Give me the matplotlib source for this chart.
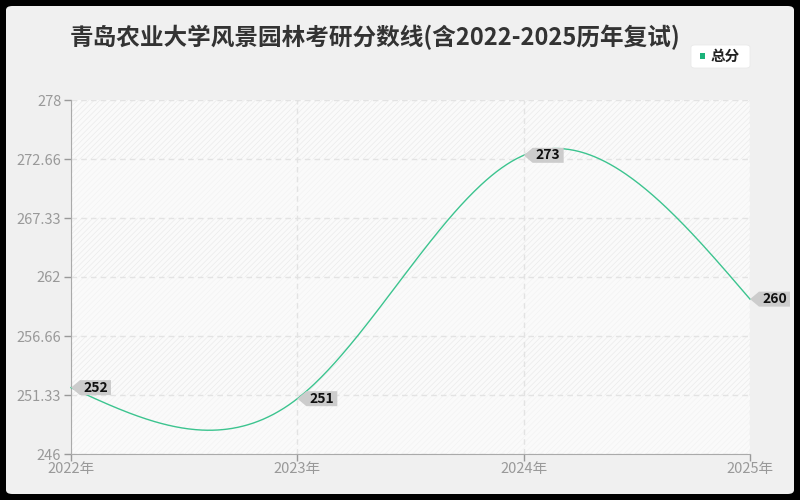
import numpy as np
import matplotlib
matplotlib.use("Agg")
import matplotlib.pyplot as plt
from matplotlib.patches import FancyBboxPatch, Polygon
import matplotlib as mpl

plt.rcParams['font.family'] = ['Noto Sans CJK SC', 'DejaVu Sans']
mpl.rcParams['hatch.linewidth'] = 0.5

title = "青岛农业大学风景园林考研分数线(含2022-2025历年复试)"
years = [2022, 2023, 2024, 2025]
xlabels = ["2022年", "2023年", "2024年", "2025年"]
scores = [252, 251, 273, 260]
series_name = "总分"
yticks = [246, 251.33, 256.66, 262, 267.33, 272.66, 278]
ytick_labels = ["246", "251.33", "256.66", "262", "267.33", "272.66", "278"]

W, H = 800, 500
fig = plt.figure(figsize=(W/100, H/100), dpi=100)
fig.patch.set_facecolor('black')
# panel
panel = FancyBboxPatch((6/W, 6/H), 788/W, 488/H, boxstyle="round,pad=0,rounding_size=0.008",
                       transform=fig.transFigure, facecolor='#f0f0f0', edgecolor='none', zorder=-10)
fig.patches.append(panel)

ax = fig.add_axes([71/W, 1-454/H, (750-71)/W, (454-100)/H])
ax.set_zorder(1)
ax.set_facecolor('#fafafa')
ax.set_xlim(2022, 2025)
ax.set_ylim(246, 278)

# alternating hatched bands
for i in range(len(yticks)-1):
    strong = (len(yticks)-2-i) % 2 == 0
    ax.axhspan(yticks[i], yticks[i+1], facecolor='#fafafa',
               edgecolor='#ebebeb' if strong else '#f3f3f3', hatch='//////', linewidth=0, zorder=0)

# natural cubic spline
x = np.array(years, dtype=float)
y = np.array(scores, dtype=float)
n = len(x)
h = np.diff(x)
A = np.zeros((n, n)); r = np.zeros(n)
A[0, 0] = 1; A[-1, -1] = 1
for i in range(1, n-1):
    A[i, i-1] = h[i-1]; A[i, i] = 2*(h[i-1]+h[i]); A[i, i+1] = h[i]
    r[i] = 6*((y[i+1]-y[i])/h[i] - (y[i]-y[i-1])/h[i-1])
M = np.linalg.solve(A, r)
xs = np.linspace(x[0], x[-1], 400)
ys = np.zeros_like(xs)
for k, xv in enumerate(xs):
    i = min(np.searchsorted(x, xv, side='right')-1, n-2)
    t1 = x[i+1]-xv; t0 = xv-x[i]
    ys[k] = (M[i]*t1**3 + M[i+1]*t0**3)/(6*h[i]) + (y[i]/h[i] - M[i]*h[i]/6)*t1 + (y[i+1]/h[i] - M[i+1]*h[i]/6)*t0
ax.plot(xs, ys, color='#3cc48f', lw=1, zorder=3, clip_on=False)

ax.set_xticks(years)
ax.set_xticklabels(xlabels)
ax.set_yticks(yticks)
ax.set_yticklabels(ytick_labels)
ax.tick_params(axis='both', colors='#999999', labelsize=10.5, length=5, width=1)
ax.tick_params(axis='x', pad=1)
ax.tick_params(axis='y', pad=2)
for lab in ax.get_xticklabels():
    lab.set_color('#999999')
for lab in ax.get_yticklabels():
    lab.set_color('#999999')
ax.grid(True, color='#e3e3e3', linestyle=(0, (4, 3)), lw=1)
for s in ['top', 'right']:
    ax.spines[s].set_visible(False)
for s in ['left', 'bottom']:
    ax.spines[s].set_color('#aaaaaa')
ax.set_axisbelow(True)

# value labels: arrow-shaped grey tags
for xv, yv in zip(years, scores):
    px, py = ax.transData.transform((xv, yv))
    tip = 9; bw = 31; bh = 15
    pts = [(px, py), (px+tip, py+bh/2), (px+tip+bw, py+bh/2), (px+tip+bw, py-bh/2), (px+tip, py-bh/2)]
    pts_fig = [(a/W, b/H) for a, b in pts]
    poly = Polygon(pts_fig, closed=True, transform=fig.transFigure, facecolor='#cccccc',
                   edgecolor='none', zorder=5)
    fig.patches.append(poly)
    fig.text((px+tip+bw/2)/W, py/H, str(yv), ha='center', va='center', fontsize=10,
             fontweight='bold', color='#111111', zorder=6)

fig.text(70/W, 1-37/H, title, ha='left', va='center', fontsize=17, fontweight='bold', color='#333333')

# legend
leg = FancyBboxPatch((691/W, 1-68/H), 59/W, 23/H, boxstyle="round,pad=0,rounding_size=0.005",
                     transform=fig.transFigure, facecolor='white', edgecolor='#e8e8e8', lw=0.5, zorder=4)
fig.patches.append(leg)
fig.patches.append(mpl.patches.Rectangle((700/W, 1-58.5/H), 5/W, 5/H, transform=fig.transFigure,
                                         facecolor='#1bb37a', edgecolor='none', zorder=5))
fig.text(711/W, 1-56/H, series_name, ha='left', va='center', fontsize=10.5, fontweight='bold',
         color='#222222', zorder=5)

fig.savefig('out.png', dpi=100, facecolor=fig.get_facecolor())
